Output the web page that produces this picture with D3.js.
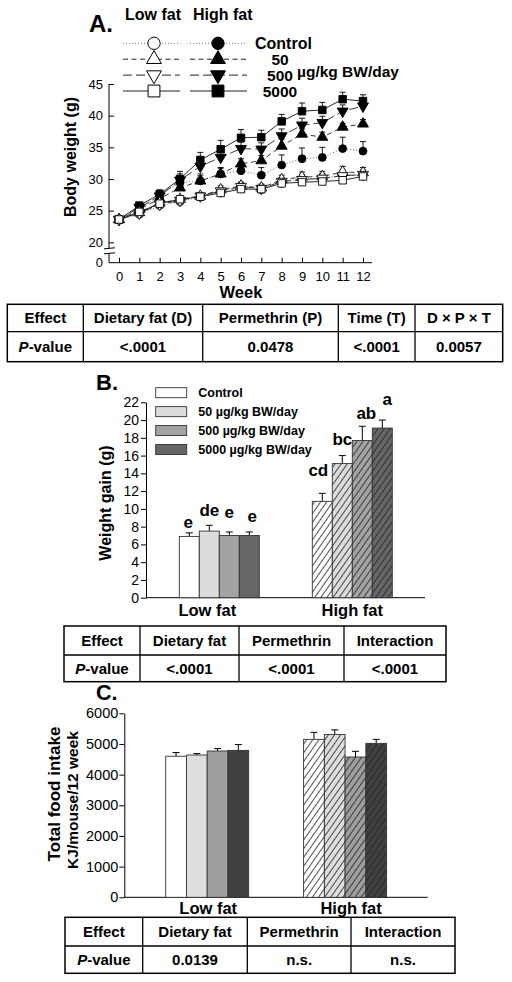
<!DOCTYPE html>
<html><head><meta charset="utf-8">
<script src="https://cdn.jsdelivr.net/npm/d3@7"></script>
<style>
body{margin:0;background:#fff}
svg{display:block}
text{font-family:Arial,"Liberation Sans",sans-serif;fill:#000}
</style>
</head><body>
<svg id="c" width="512" height="982"></svg>
<script>
// ================= DATA =================
// Panel A: body weight (g) by week
const weeks = [0,1,2,3,4,5,6,7,8,9,10,11,12];
const yTicksA = [20,25,30,35,40,45];
const doseNames = ["Control","50","500","5000"];
const lfControl = [23.6,24.4,25.8,26.4,27.2,28.0,28.6,28.3,29.6,30.0,30.1,30.6,30.6];
const lf50      = [23.6,24.7,26.2,26.8,27.3,28.3,28.9,28.6,29.9,30.3,30.4,31.1,31.0];
const lf500     = [23.6,24.6,26.0,26.6,27.3,28.1,28.8,28.5,29.6,29.9,30.1,30.5,30.7];
const lf5000    = [23.6,24.8,26.1,26.8,27.2,27.8,28.4,28.4,29.3,29.5,29.6,29.8,30.4];
const hfControl = [23.6,25.0,27.6,29.4,29.7,30.8,31.3,30.6,32.2,33.2,33.4,34.8,34.4];
const hf50      = [23.6,25.2,26.9,28.6,29.7,30.8,32.4,32.9,35.2,37.1,36.6,38.2,38.7];
const hf500     = [23.6,25.5,27.3,29.8,32.0,33.4,34.8,34.7,36.8,38.5,38.9,40.7,41.5];
const hf5000    = [23.6,25.8,27.6,30.0,33.0,34.7,36.5,36.6,39.1,40.7,40.9,42.6,42.3];
const lfControlErr = [0.3,0.4,0.4,0.5,0.4,0.5,0.6,0.5,0.6,0.7,0.7,0.8,0.7];
const lf50Err      = [0.3,0.4,0.5,0.5,0.5,0.6,0.6,0.6,0.7,0.8,0.8,0.9,0.8];
const lf500Err     = [0.3,0.4,0.4,0.5,0.4,0.5,0.6,0.5,0.6,0.7,0.7,0.8,0.7];
const lf5000Err    = [0.3,0.4,0.4,0.4,0.4,0.5,0.5,0.5,0.5,0.6,0.6,0.7,0.7];
const hfControlErr = [0.3,0.5,0.6,0.8,1.1,1.0,0.9,1.2,1.6,1.7,1.6,1.8,1.5];
const hf50Err      = [0.3,0.5,0.6,0.8,0.8,0.9,0.8,0.8,1.1,0.8,0.8,0.6,0.7];
const hf500Err     = [0.3,0.5,0.6,1.0,1.0,1.0,1.0,1.0,1.1,1.1,1.0,1.0,1.0];
const hf5000Err    = [0.4,0.5,0.7,1.2,1.2,1.4,1.3,1.1,1.1,1.3,1.2,1.1,1.0];
const tableAHead = ["Effect","Dietary fat (D)","Permethrin (P)","Time (T)","D × P × T"];
const tableAVals = ["P-value","<.0001","0.0478","<.0001","0.0057"];

// Panel B: weight gain (g)
const groups = ["Low fat","High fat"];
const barLegend = ["Control","50 µg/kg BW/day","500 µg/kg BW/day","5000 µg/kg BW/day"];
const yTicksB = [0,2,4,6,8,10,12,14,16,18,20,22];
const gainLow = [6.9,7.5,7.0,7.0];
const gainLowErr = [0.4,0.65,0.4,0.4];
const gainHigh = [10.85,15.1,17.7,19.1];
const gainHighErr = [0.9,0.9,1.6,0.9];
const lettersLow = ["e","de","e","e"];
const lettersHigh = ["cd","bc","ab","a"];
const tableBHead = ["Effect","Dietary fat","Permethrin","Interaction"];
const tableBVals = ["P-value","<.0001","<.0001","<.0001"];

// Panel C: total food intake (KJ/mouse/12 week)
const yTicksC = [0,1000,2000,3000,4000,5000,6000];
const foodLow = [4600,4640,4770,4790];
const foodLowErr = [120,45,80,190];
const foodHigh = [5150,5310,4575,5020];
const foodHighErr = [230,150,185,130];
const tableCHead = ["Effect","Dietary fat","Permethrin","Interaction"];
const tableCVals = ["P-value","0.0139","n.s.","n.s."];

// ================= DRAWING =================
const svg = d3.select("#c");
const defs = svg.append("defs");
const fmtInt = d3.format("d");

function styleAxis(g, fs){
  g.selectAll("text").attr("font-size",fs).attr("fill","#000");
  g.selectAll("line").attr("stroke","#000");
  g.selectAll("path").attr("stroke","#000");
}

// ---------- Panel A ----------
const xA = d3.scaleLinear().domain([0,12]).range([119,363]);
const yA = d3.scaleLinear().domain([20,45]).range([242.3,84]);
const gA = svg.append("g");

const ay = gA.append("g").attr("transform","translate(109,0)")
  .call(d3.axisLeft(yA).tickValues(yTicksA).tickFormat(fmtInt).tickSizeInner(-5).tickSizeOuter(0).tickPadding(6));
ay.select(".domain").remove();
styleAxis(ay,13);
const yA0 = d3.scaleLinear().domain([0,1]).range([262.7,250]);
const ay0 = gA.append("g").attr("transform","translate(109,0)")
  .call(d3.axisLeft(yA0).tickValues([0]).tickFormat(fmtInt).tickSize(0).tickPadding(6));
ay0.select(".domain").remove();
styleAxis(ay0,13);
const ax = gA.append("g").attr("transform","translate(0,262.7)")
  .call(d3.axisBottom(xA).tickValues(weeks).tickFormat(fmtInt).tickSizeInner(-5).tickSizeOuter(0).tickPadding(9));
ax.select(".domain").remove();
styleAxis(ax,13);
gA.append("path").attr("d","M109,84V248.3M109,253.3V262.7H372").attr("fill","none").attr("stroke","#000");
gA.append("path").attr("d","M104,248.8L115,247.8M104,253.8L115,252.8").attr("stroke","#000").attr("stroke-width",1);

gA.append("text").attr("x",241).attr("y",297.5).attr("text-anchor","middle").attr("font-weight","bold").attr("font-size",16.5).text("Week");
gA.append("text").attr("transform","translate(76,157) rotate(-90)").attr("text-anchor","middle").attr("font-weight","bold").attr("font-size",16).text("Body weight (g)");

const seriesA = [
  {diet:"LF", dose:0, vals:lfControl, errs:lfControlErr},
  {diet:"LF", dose:1, vals:lf50, errs:lf50Err},
  {diet:"LF", dose:2, vals:lf500, errs:lf500Err},
  {diet:"LF", dose:3, vals:lf5000, errs:lf5000Err},
  {diet:"HF", dose:0, vals:hfControl, errs:hfControlErr},
  {diet:"HF", dose:1, vals:hf50, errs:hf50Err},
  {diet:"HF", dose:2, vals:hf500, errs:hf500Err},
  {diet:"HF", dose:3, vals:hf5000, errs:hf5000Err}
];
const dashes = ["1,2","5,3.5","9,4",null];
const lineColors = ["#555","#222","#222","#111"];
const symTypes = [d3.symbolCircle,d3.symbolTriangle,d3.symbolTriangle,d3.symbolSquare];
const symRot = [0,0,180,0];
const symSize = [48,52,52,56];

const lineA = d3.line().x((d,i)=>xA(weeks[i])).y(d=>yA(d));
seriesA.forEach(s=>{
  gA.append("path").attr("d",lineA(s.vals)).attr("fill","none")
    .attr("stroke",lineColors[s.dose]).attr("stroke-width",0.9)
    .attr("stroke-dasharray",dashes[s.dose]);
});
seriesA.forEach(s=>{
  s.vals.forEach((v,i)=>{
    const x = xA(weeks[i]), y0 = yA(v), y1 = yA(v+s.errs[i]);
    gA.append("path").attr("d",`M${x},${y0}V${y1}M${x-3},${y1}H${x+3}`).attr("stroke","#000").attr("stroke-width",0.9).attr("fill","none");
  });
});
const orderA = [4,5,6,7,0,1,2,3];
orderA.forEach(k=>{
  const s = seriesA[k];
  s.vals.forEach((v,i)=>{
    gA.append("path")
      .attr("d",d3.symbol().type(symTypes[s.dose]).size(symSize[s.dose])())
      .attr("transform",`translate(${xA(weeks[i])},${yA(v)}) rotate(${symRot[s.dose]})`)
      .attr("fill",s.diet==="LF"?"#fff":"#000").attr("stroke","#000").attr("stroke-width",0.9);
  });
});

// Legend A
svg.append("text").attr("x",89).attr("y",32).attr("font-weight","bold").attr("font-size",24).text("A.");
svg.append("text").attr("x",125).attr("y",19.5).attr("font-weight","bold").attr("font-size",16).text("Low fat");
svg.append("text").attr("x",193).attr("y",19.5).attr("font-weight","bold").attr("font-size",16).text("High fat");
const legRowA = d3.scaleLinear().domain([0,3]).range([43.3,91]);
const legSize = [120,95,95,140];
doseNames.forEach((nm,d)=>{
  const y = legRowA(d);
  [[123,180,154,"#fff"],[190,247,218,"#000"]].forEach(([x1,x2,cx,fill])=>{
    svg.append("line").attr("x1",x1).attr("x2",x2).attr("y1",y).attr("y2",y)
      .attr("stroke",d===0?"#777":"#222").attr("stroke-width",1).attr("stroke-dasharray",dashes[d]);
    svg.append("path").attr("d",d3.symbol().type(symTypes[d]).size(legSize[d])())
      .attr("transform",`translate(${cx},${y}) rotate(${symRot[d]})`)
      .attr("fill",fill).attr("stroke","#000").attr("stroke-width",1);
  });
  svg.append("text").attr("x",d===0?255:280).attr("y",y+5.5)
    .attr("text-anchor",d===0?"start":"middle").attr("font-weight","bold").attr("font-size",d===0?16:15.5).text(nm);
});
svg.append("text").attr("x",297).attr("y",76.5).attr("font-weight","bold").attr("font-size",15.5).text("µg/kg BW/day");

// ---------- tables ----------
function drawTable(cols, rows, head, vals){
  const g = svg.append("g");
  const x0 = cols[0], x1 = cols[cols.length-1];
  g.append("rect").attr("x",x0).attr("y",rows[0]).attr("width",x1-x0).attr("height",rows[2]-rows[0])
    .attr("fill","none").attr("stroke","#000").attr("stroke-width",1.5);
  g.append("line").attr("x1",x0).attr("x2",x1).attr("y1",rows[1]).attr("y2",rows[1]).attr("stroke","#000").attr("stroke-width",1.3);
  cols.slice(1,-1).forEach(c=>g.append("line").attr("x1",c).attr("x2",c).attr("y1",rows[0]).attr("y2",rows[2]).attr("stroke","#000").attr("stroke-width",1.3));
  [head,vals].forEach((row,r)=>{
    row.forEach((t,i)=>{
      const tx = g.append("text").attr("x",(cols[i]+cols[i+1])/2).attr("y",(rows[r]+rows[r+1])/2+5.4)
        .attr("text-anchor","middle").attr("font-weight","bold").attr("font-size",15);
      if(t==="P-value"){
        tx.append("tspan").attr("font-style","italic").text("P");
        tx.append("tspan").text("-value");
      } else tx.text(t);
    });
  });
}
drawTable([7.3,83.3,202.7,338.3,415,502.7],[304.3,331.7,361.7],tableAHead,tableAVals);
drawTable([64,140,239,344,446],[626,655,681.7],tableBHead,tableBVals);
drawTable([65,142.7,247.3,351,455],[917.3,946,973.3],tableCHead,tableCVals);

// ---------- hatch patterns ----------
function hatch(id,color){
  const p = defs.append("pattern").attr("id",id).attr("patternUnits","userSpaceOnUse")
    .attr("width",5).attr("height",10).attr("patternTransform","rotate(35)");
  p.append("rect").attr("width",5).attr("height",10).attr("fill",color);
  p.append("line").attr("x1",0.5).attr("x2",0.5).attr("y1",0).attr("y2",10).attr("stroke","#222").attr("stroke-width",0.8);
}
const colorsB = ["#ffffff","#dcdcdc","#a3a3a3","#666666"];
const colorsC = ["#ffffff","#dedede","#9e9e9e","#404040"];
colorsB.forEach((c,i)=>hatch("hb"+i,c));
colorsC.forEach((c,i)=>hatch("hc"+i,c));

function barPanel(o){
  const g = svg.append("g");
  const ax = g.append("g").attr("transform",`translate(${o.axisX},0)`)
    .call(d3.axisLeft(o.y).tickValues(o.ticks).tickFormat(fmtInt).tickSizeInner(5).tickSizeOuter(0).tickPadding(o.pad));
  styleAxis(ax,o.fs);
  g.append("line").attr("x1",o.axisX).attr("x2",o.axisEnd).attr("y1",o.y(0)).attr("y2",o.y(0)).attr("stroke","#000");
  const sets = [[o.low,o.lowErr,false],[o.high,o.highErr,true]];
  sets.forEach(([vals,errs,hf],gi)=>{
    const cx = o.x(groups[gi]);
    vals.forEach((v,i)=>{
      const bx = cx + o.xin(i), bw = o.xin.bandwidth();
      const yt = o.y(v), ye = o.y(v+errs[i]), mx = bx+bw/2;
      g.append("path").attr("d",`M${mx},${yt}V${ye}M${mx-3.5},${ye}H${mx+3.5}`).attr("stroke","#000").attr("stroke-width",1).attr("fill","none");
      g.append("rect").attr("x",bx).attr("y",yt).attr("width",bw).attr("height",o.y(0)-yt)
        .attr("fill",hf?`url(#${o.pat}${i})`:o.colors[i]).attr("stroke","#333").attr("stroke-width",0.9);
    });
    g.append("text").attr("x",cx+o.labelNudge[gi]).attr("y",o.labelY).attr("text-anchor","middle")
      .attr("font-weight","bold").attr("font-size",16.5).text(groups[gi]);
  });
  return g;
}

// ---------- Panel B ----------
const xB = d3.scalePoint().domain(groups).range([219.3,352.3]);
const xBin = d3.scaleBand().domain(d3.range(4)).range([-40,40]);
const yB = d3.scaleLinear().domain([0,22]).range([597.7,402.3]);
const gB = barPanel({x:xB,xin:xBin,y:yB,ticks:yTicksB,axisX:146,axisEnd:425,fs:14,pad:2,
  low:gainLow,lowErr:gainLowErr,high:gainHigh,highErr:gainHighErr,colors:colorsB,pat:"hb",labelY:616,labelNudge:[-12,0]});
svg.append("text").attr("x",96).attr("y",390).attr("font-weight","bold").attr("font-size",22).text("B.");
svg.append("text").attr("transform","translate(111,503) rotate(-90)").attr("text-anchor","middle")
  .attr("font-weight","bold").attr("font-size",16).text("Weight gain (g)");
// significance letters
const letNudgeY = [[-5,-9,-14,-10],[-17,-11,-7,-15]];
const letNudgeX = [[-1,0,0,3],[-4,0,4,5]];
[[gainLow,gainLowErr,lettersLow],[gainHigh,gainHighErr,lettersHigh]].forEach(([vals,errs,lets],gi)=>{
  vals.forEach((v,i)=>{
    const mx = xB(groups[gi]) + xBin(i) + xBin.bandwidth()/2;
    gB.append("text").attr("x",mx+letNudgeX[gi][i]).attr("y",yB(v+errs[i])+letNudgeY[gi][i])
      .attr("text-anchor","middle").attr("font-weight","bold").attr("font-size",17).text(lets[i]);
  });
});
// legend B
const legRowB = d3.scaleLinear().domain([0,3]).range([392.7,449.5]);
barLegend.forEach((t,i)=>{
  const y = legRowB(i);
  svg.append("rect").attr("x",155.7).attr("y",y-5).attr("width",31).attr("height",10)
    .attr("fill",colorsB[i]).attr("stroke","#333").attr("stroke-width",0.9);
  svg.append("text").attr("x",198.3).attr("y",y+4.5).attr("font-weight","bold").attr("font-size",12.5).text(t);
});

// ---------- Panel C ----------
const xC = d3.scalePoint().domain(groups).range([207.2,345.1]);
const xCin = d3.scaleBand().domain(d3.range(4)).range([-41.5,41.5]);
const yC = d3.scaleLinear().domain([0,6000]).range([897.3,713.3]);
barPanel({x:xC,xin:xCin,y:yC,ticks:yTicksC,axisX:124.3,axisEnd:427.7,fs:14.5,pad:1,
  low:foodLow,lowErr:foodLowErr,high:foodHigh,highErr:foodHighErr,colors:colorsC,pat:"hc",labelY:913.5,labelNudge:[1,6]});
svg.append("text").attr("x",96).attr("y",700).attr("font-weight","bold").attr("font-size",21.5).text("C.");
svg.append("text").attr("transform","translate(59.5,794) rotate(-90)").attr("text-anchor","middle")
  .attr("font-weight","bold").attr("font-size",17).text("Total food intake");
svg.append("text").attr("transform","translate(77.5,800) rotate(-90)").attr("text-anchor","middle")
  .attr("font-weight","bold").attr("font-size",15.5).text("KJ/mouse/12 week");
</script>
</body></html>
